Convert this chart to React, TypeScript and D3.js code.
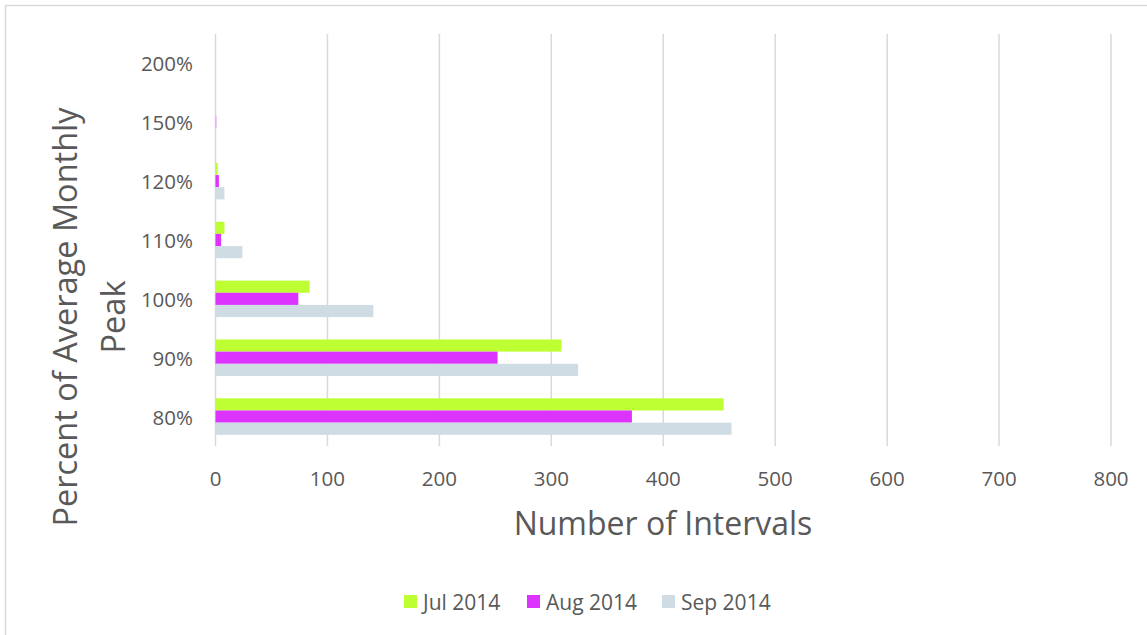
import React from "react";
import * as d3 from "d3";

const categories = ["200%", "150%", "120%", "110%", "100%", "90%", "80%"];
const seriesNames = ["Jul 2014", "Aug 2014", "Sep 2014"];
const jul = [0, 0, 2, 8, 84, 309, 454];
const aug = [0, 1, 3, 5, 74, 252, 372];
const sep = [0, 0, 8, 24, 141, 324, 461];
const colors = ["#bdff33", "#dc33ff", "#d0dce3"];
const xTicks = [0, 100, 200, 300, 400, 500, 600, 700, 800];

const W = 1147;
const H = 635;
const font = "'Open Sans', sans-serif";

export default function App() {
  const series = [jul, aug, sep];
  const x = d3.scaleLinear().domain([0, 800]).range([215.5, 1111]);
  const y = d3.scaleBand<string>().domain(categories).range([34, 446]).padding(0);
  const groupFrac = 0.62;
  const inner = d3
    .scaleBand<string>()
    .domain(seriesNames)
    .range([0, y.bandwidth() * groupFrac])
    .padding(0);
  const offset = (y.bandwidth() * (1 - groupFrac)) / 2;

  const legendX = [404, 527, 662];

  return (
    <svg
      width={W}
      height={H}
      style={{ position: "absolute", left: 0, top: 0, background: "#fff" }}
      fontFamily={font}
    >
      <rect x={5.5} y={5.5} width={W + 10} height={H + 10} fill="#fff" stroke="#d9d9d9" strokeWidth={1.5} />
      {xTicks.map((t) => (
        <line key={t} x1={x(t)} x2={x(t)} y1={34} y2={446} stroke="#d9d9d9" strokeWidth={1.5} />
      ))}
      {series.map((vals, si) =>
        categories.map((c, ci) => {
          const v = vals[ci];
          if (!v) return null;
          return (
            <rect
              key={si + "-" + c}
              x={x(0)}
              y={(y(c) as number) + offset + (inner(seriesNames[si]) as number)}
              width={x(v) - x(0)}
              height={inner.bandwidth()}
              fill={colors[si]}
              opacity={c === "150%" ? 0.35 : 1}
            />
          );
        })
      )}
      {categories.map((c) => (
        <text
          key={c}
          x={193}
          y={(y(c) as number) + y.bandwidth() / 2}
          textAnchor="end"
          dominantBaseline="central"
          fontSize={20.5}
          fill="#595959"
        >
          {c}
        </text>
      ))}
      {xTicks.map((t) => (
        <text key={t} x={x(t)} y={478} textAnchor="middle" dominantBaseline="central" fontSize={20.5} fill="#595959">
          {t}
        </text>
      ))}
      <text x={663} y={522} textAnchor="middle" dominantBaseline="central" fontSize={32} fill="#595959">
        Number of Intervals
      </text>
      <g transform="translate(64,317) rotate(-90)">
        <text x={0} y={0} textAnchor="middle" dominantBaseline="central" fontSize={32.5} fill="#595959">
          Percent of Average Monthly
        </text>
        <text x={0} y={48} textAnchor="middle" dominantBaseline="central" fontSize={32.5} fill="#595959">
          Peak
        </text>
      </g>
      {seriesNames.map((s, i) => (
        <g key={s}>
          <rect x={legendX[i]} y={595} width={13} height={13} fill={colors[i]} />
          <text x={legendX[i] + 19} y={601.5} dominantBaseline="central" fontSize={21} fill="#595959">
            {s}
          </text>
        </g>
      ))}
    </svg>
  );
}
